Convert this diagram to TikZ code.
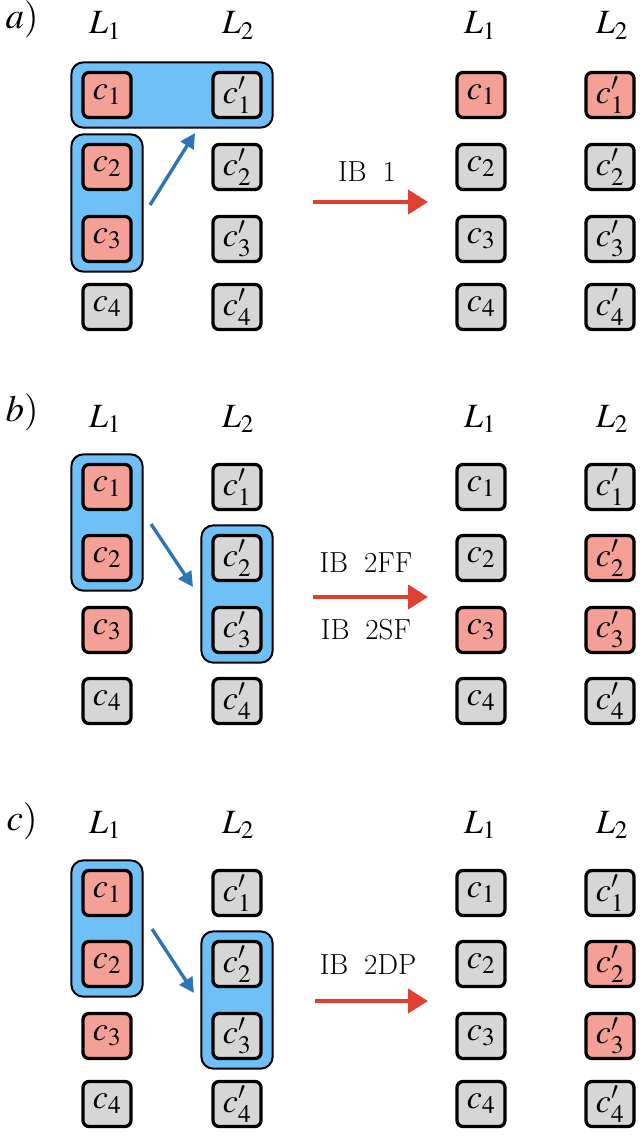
\documentclass[tikz,border=0pt]{standalone}
\usepackage{mathptmx}
\usetikzlibrary{fit,arrows.meta,backgrounds}
\definecolor{redfill}{HTML}{F4A097}
\definecolor{greyfill}{HTML}{D6D6D6}
\definecolor{grpfill}{HTML}{70C0F8}
\definecolor{bluearrow}{HTML}{2E75B6}
\definecolor{redarrow}{HTML}{E0402F}
\tikzset{
 cell/.style={draw=black, line width=3.3pt, rounded corners=6pt, minimum width=48pt, minimum height=45pt, inner sep=0pt, font=\fontsize{34}{34}\selectfont},
 on/.style={cell, fill=redfill},
 off/.style={cell, fill=greyfill},
 grp/.style={draw=black, line width=2pt, fill=grpfill, rounded corners=12pt, inner xsep=10pt, inner ysep=8.5pt},
 barrow/.style={draw=bluearrow, line width=3.4pt, -{Triangle[length=15pt,width=15pt]}},
 rarrow/.style={draw=redarrow, line width=4.5pt, -{Triangle[length=20pt,width=24pt]}},
 lbl/.style={font=\fontsize{34}{34}\selectfont, anchor=base},
 plbl/.style={font=\fontsize{37}{37}\selectfont},
 iblbl/.style={font=\fontsize{29}{29}\selectfont},
}
\begin{document}
\begin{tikzpicture}[x=1pt,y=-1pt]
\useasboundingbox (0,0) rectangle (644,1142);
% ---------------- panel a ----------------
\node[plbl] (pa) at (22,19) {$a)$};
\node[lbl] (aL1) at (105,34) {$L_1$};
\node[lbl] (aL2) at (238,34) {$L_2$};
\node[lbl] (raL1) at (480,34) {$L_1$};
\node[lbl] (raL2) at (612,34) {$L_2$};
\node[on]  (a1) at (107,95) {$c_1$};
\node[on]  (a2) at (107,167) {$c_2$};
\node[on]  (a3) at (107,239) {$c_3$};
\node[off] (a4) at (107,307) {$c_4$};
\node[off] (ap1) at (237,95) {$c'_1$};
\node[off] (ap2) at (237,167) {$c'_2$};
\node[off] (ap3) at (237,239) {$c'_3$};
\node[off] (ap4) at (237,307) {$c'_4$};
\node[on]  (ra1) at (481,95) {$c_1$};
\node[off] (ra2) at (481,167) {$c_2$};
\node[off] (ra3) at (481,239) {$c_3$};
\node[off] (ra4) at (481,307) {$c_4$};
\node[on]  (rap1) at (610,95) {$c'_1$};
\node[off] (rap2) at (610,167) {$c'_2$};
\node[off] (rap3) at (610,239) {$c'_3$};
\node[off] (rap4) at (610,307) {$c'_4$};
\begin{scope}[on background layer]
\node[grp, fit=(a1)(ap1)] (ga1) {};
\node[grp, fit=(a2)(a3)] (ga2) {};
\end{scope}
\coordinate (ba0) at (150,205);
\coordinate (ba1) at (195,133);
\draw[barrow] (ba0) -- (ba1);
\coordinate (ra0) at (313,202);
\coordinate (ra1e) at (428,202);
\draw[rarrow] (ra0) -- (ra1e);
\node[iblbl] (iba) at (367,172) {IB\hspace{0.55em}1};
% ---------------- panel b ----------------
\node[plbl] (pb) at (22,412) {$b)$};
\node[lbl] (bL1) at (105,427) {$L_1$};
\node[lbl] (bL2) at (238,427) {$L_2$};
\node[lbl] (rbL1) at (480,427) {$L_1$};
\node[lbl] (rbL2) at (612,427) {$L_2$};
\node[on]  (b1) at (107,487) {$c_1$};
\node[on]  (b2) at (107,558) {$c_2$};
\node[on]  (b3) at (107,630) {$c_3$};
\node[off] (b4) at (107,701) {$c_4$};
\node[off] (bp1) at (237,487) {$c'_1$};
\node[off] (bp2) at (237,558) {$c'_2$};
\node[off] (bp3) at (237,630) {$c'_3$};
\node[off] (bp4) at (237,701) {$c'_4$};
\node[off] (rb1) at (481,487) {$c_1$};
\node[off] (rb2) at (481,558) {$c_2$};
\node[on]  (rb3) at (481,630) {$c_3$};
\node[off] (rb4) at (481,701) {$c_4$};
\node[off] (rbp1) at (610,487) {$c'_1$};
\node[on]  (rbp2) at (610,558) {$c'_2$};
\node[on]  (rbp3) at (610,630) {$c'_3$};
\node[off] (rbp4) at (610,701) {$c'_4$};
\begin{scope}[on background layer]
\node[grp, fit=(b1)(b2)] (gb1) {};
\node[grp, fit=(bp2)(bp3)] (gb2) {};
\end{scope}
\coordinate (bb0) at (151,524);
\coordinate (bb1) at (193,587);
\draw[barrow] (bb0) -- (bb1);
\coordinate (rb0) at (313,597);
\coordinate (rb1e) at (428,597);
\draw[rarrow] (rb0) -- (rb1e);
\node[iblbl] (ibb1) at (366,563) {IB\hspace{0.55em}2FF};
\node[iblbl] (ibb2) at (366,630) {IB\hspace{0.55em}2SF};
% ---------------- panel c ----------------
\node[plbl] (pc) at (22,821) {$c)$};
\node[lbl] (cL1) at (105,833) {$L_1$};
\node[lbl] (cL2) at (238,833) {$L_2$};
\node[lbl] (rcL1) at (480,833) {$L_1$};
\node[lbl] (rcL2) at (612,833) {$L_2$};
\node[on]  (c1) at (107,893) {$c_1$};
\node[on]  (c2) at (107,964) {$c_2$};
\node[on]  (c3) at (107,1036) {$c_3$};
\node[off] (c4) at (107,1104) {$c_4$};
\node[off] (cp1) at (237,893) {$c'_1$};
\node[off] (cp2) at (237,964) {$c'_2$};
\node[off] (cp3) at (237,1036) {$c'_3$};
\node[off] (cp4) at (237,1104) {$c'_4$};
\node[off] (rc1) at (481,893) {$c_1$};
\node[off] (rc2) at (481,964) {$c_2$};
\node[off] (rc3) at (481,1036) {$c_3$};
\node[off] (rc4) at (481,1104) {$c_4$};
\node[off] (rcp1) at (610,893) {$c'_1$};
\node[on]  (rcp2) at (610,964) {$c'_2$};
\node[on]  (rcp3) at (610,1036) {$c'_3$};
\node[off] (rcp4) at (610,1104) {$c'_4$};
\begin{scope}[on background layer]
\node[grp, fit=(c1)(c2)] (gc1) {};
\node[grp, fit=(cp2)(cp3)] (gc2) {};
\end{scope}
\coordinate (bc0) at (152,929);
\coordinate (bc1) at (194,993);
\draw[barrow] (bc0) -- (bc1);
\coordinate (rc0) at (315,1001);
\coordinate (rc1e) at (428,1001);
\draw[rarrow] (rc0) -- (rc1e);
\node[iblbl] (ibc) at (368,965) {IB\hspace{0.55em}2DP};
\end{tikzpicture}
\end{document}
